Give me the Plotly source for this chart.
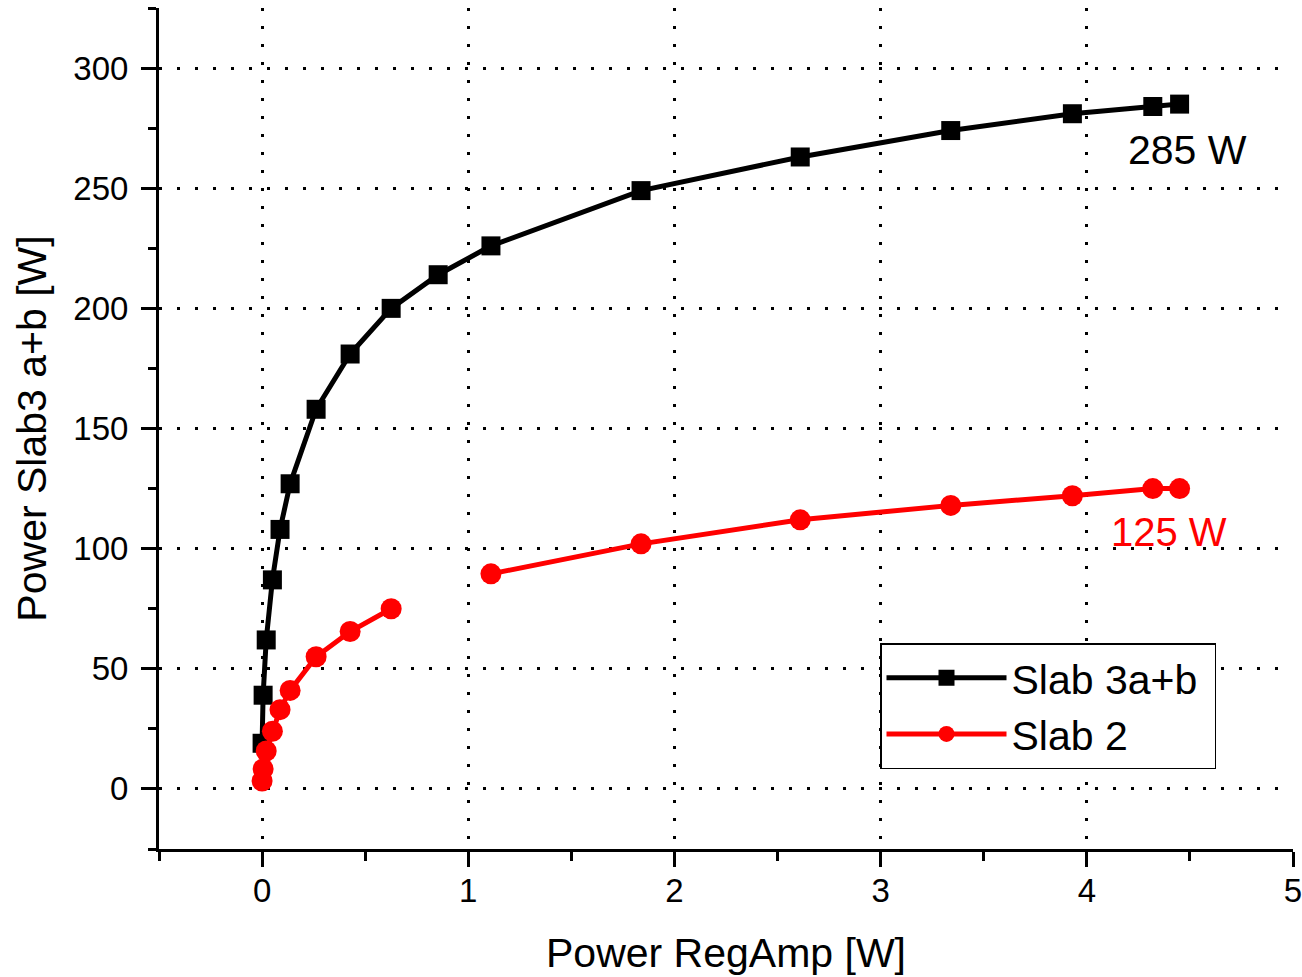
import plotly.graph_objects as go

x_slab3 = [0, 0.005, 0.02, 0.05, 0.087, 0.136, 0.262, 0.427, 0.626, 0.854, 1.11, 1.838, 2.61, 3.34, 3.93, 4.32, 4.45]
y_slab3 = [19, 39, 62, 87, 108, 127, 158, 181, 200, 214, 226, 249, 263, 274, 281, 284, 285]

x_slab2 = [0, 0.005, 0.02, 0.05, 0.087, 0.136, 0.262, 0.427, 0.626, None, 1.11, 1.838, 2.61, 3.34, 3.93, 4.32, 4.45]
y_slab2 = [3.3, 8.3, 15.8, 24, 33, 41, 55, 65.5, 75, None, 89.5, 102, 112, 118, 122, 125, 125]

xtick_vals = [0, 1, 2, 3, 4, 5]
ytick_vals = [0, 50, 100, 150, 200, 250, 300]

FONT = "Liberation Sans, Arial, sans-serif"

fig = go.Figure()
fig.add_trace(go.Scatter(x=x_slab3, y=y_slab3, mode="lines+markers", name="Slab 3a+b\u00a0",
                         line=dict(color="black", width=5),
                         marker=dict(symbol="square", size=19, color="black")))
fig.add_trace(go.Scatter(x=x_slab2, y=y_slab2, mode="lines+markers", name="Slab 2",
                         line=dict(color="#ff0000", width=5),
                         marker=dict(symbol="circle", size=21, color="#ff0000"),
                         connectgaps=False))

fig.add_annotation(x=4.486, y=265.7, text="285 W", showarrow=False,
                   font=dict(size=41, color="black", family=FONT), xanchor="center")
fig.add_annotation(x=4.40, y=107, text="125 W", showarrow=False,
                   font=dict(size=40, color="#ff0000", family=FONT), xanchor="center")

axis_common = dict(showline=True, linecolor="black", linewidth=3, mirror=False,
                   ticks="outside", ticklen=15, tickwidth=3, tickcolor="black",
                   showgrid=True, gridcolor="black", gridwidth=3, griddash="3px,15px",
                   zeroline=False, automargin=False, ticklabeloverflow="allow",
                   tickfont=dict(size=33, family=FONT, color="black"))

fig.update_xaxes(range=[-0.5, 5], tickvals=xtick_vals, ticklabelstandoff=-5,
                 title=dict(text="Power RegAmp [W]", font=dict(size=41, family=FONT, color="black"), standoff=31),
                 minor=dict(dtick=0.5, tick0=0, ticks="outside", ticklen=9, tickwidth=3, tickcolor="black", showgrid=False),
                 **axis_common)
fig.update_yaxes(range=[-25, 325], tickvals=ytick_vals, ticklabelstandoff=6,
                 title=dict(text="Power Slab3 a+b [W]", font=dict(size=41, family=FONT, color="black"), standoff=14),
                 minor=dict(dtick=25, tick0=0, ticks="outside", ticklen=8, tickwidth=3, tickcolor="black", showgrid=False),
                 **axis_common)

fig.update_layout(width=1302, height=977, plot_bgcolor="white", paper_bgcolor="white",
                  margin=dict(l=159, r=9, t=8, b=128),
                  font=dict(family=FONT, color="black"),
                  legend=dict(x=(880 - 159) / 1134, y=(849 - 643) / 841, xanchor="left", yanchor="top",
                              bordercolor="black", borderwidth=1.5, bgcolor="white",
                              font=dict(size=41, family=FONT, color="black"),
                              itemwidth=120, tracegroupgap=0))

fig.write_html("out.html", config={"displayModeBar": False},
               post_script="document.body.style.margin='0';document.body.style.overflow='hidden';")
